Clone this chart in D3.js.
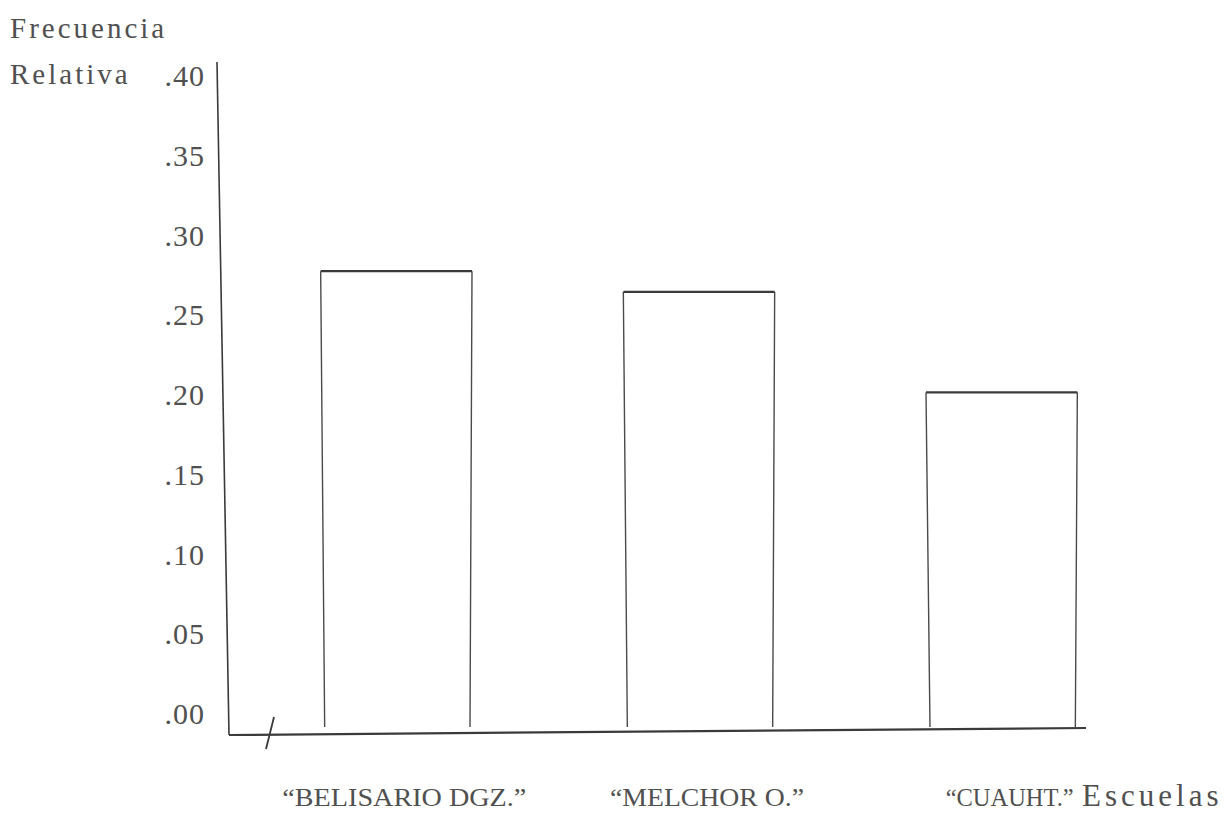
<!DOCTYPE html>
<html><head><meta charset="utf-8">
<script src="https://cdn.jsdelivr.net/npm/d3@7"></script>
<style>
html,body{margin:0;padding:0;background:#fff;}
text{font-family:"Liberation Serif","DejaVu Serif",serif;}
</style></head>
<body><svg id="c" width="1231" height="813"></svg>
<script>
const categories = ["BELISARIO DGZ.", "MELCHOR O.", "CUAUHT."];
const values = [0.277, 0.264, 0.201];
const tickValues = [0, 0.05, 0.10, 0.15, 0.20, 0.25, 0.30, 0.35, 0.40];
const tickLabels = [".00", ".05", ".10", ".15", ".20", ".25", ".30", ".35", ".40"];
const yTitle = ["Frecuencia", "Relativa"];
const xTitle = "Escuelas";

const svg = d3.select("#c");
const ink = "#3a3a3a", txt = "#505050";

const y = d3.scaleLinear().domain([0, 0.40]).range([713, 75]);
const x = d3.scaleBand().domain(categories).range([245, 1153]).paddingInner(0.5).paddingOuter(0.25);
const base = 731;

// y axis labels
const yAxis = d3.axisLeft(y).tickValues(tickValues).tickSize(0).tickPadding(0)
  .tickFormat((d, i) => tickLabels[i]);
const gy = svg.append("g").attr("transform", "translate(205,0)").call(yAxis);
gy.select(".domain").remove();
gy.selectAll("text").attr("font-family", "Liberation Serif, serif").attr("font-size", 30)
  .attr("fill", txt).attr("dy", "0.35em").attr("letter-spacing", 1);

// axis lines
svg.append("line").attr("x1", 217).attr("y1", y(0.40) - 13).attr("x2", 229).attr("y2", base + 4)
  .attr("stroke", ink).attr("stroke-width", 1.6);
svg.append("line").attr("x1", 229).attr("y1", base + 4).attr("x2", 1086).attr("y2", base - 3)
  .attr("stroke", ink).attr("stroke-width", 2.2);
// break mark
svg.append("line").attr("x1", 274).attr("y1", base - 14).attr("x2", 266).attr("y2", base + 18)
  .attr("stroke", ink).attr("stroke-width", 1.8);

// bars (open rectangles): sides
svg.append("g").selectAll("path").data(values).join("path")
  .attr("d", (v, i) => {
    const x0 = x(categories[i]), x1 = x0 + x.bandwidth(), yt = y(v), yb = base - 4;
    return `M${x0},${yt}L${x0 + 4},${yb}M${x1},${yt}L${x1 - 2},${yb}`;
  })
  .attr("fill", "none").attr("stroke", "#4a4a4a").attr("stroke-width", 1.4);
// top lines
svg.append("g").selectAll("line").data(values).join("line")
  .attr("x1", (v, i) => x(categories[i])).attr("x2", (v, i) => x(categories[i]) + x.bandwidth())
  .attr("y1", v => y(v)).attr("y2", v => y(v)).attr("stroke", ink).attr("stroke-width", 2.2);

// category labels
const widths = [244, 194, 128];
svg.append("g").selectAll("text").data(categories).join("text")
  .attr("x", d => x(d) + x.bandwidth() / 2 + 8).attr("y", 806)
  .attr("text-anchor", "middle").attr("font-size", 26).attr("fill", txt)
  .attr("textLength", (d, i) => widths[i]).attr("lengthAdjust", "spacingAndGlyphs")
  .text(d => "\u201C" + d + "\u201D");

svg.append("text").attr("x", 1082).attr("y", 806)
  .attr("font-size", 31).attr("fill", txt).attr("letter-spacing", 4)
  .text(xTitle);

// y title
svg.append("g").selectAll("text").data(yTitle).join("text")
  .attr("x", 10).attr("y", (d, i) => 38 + i * 46).attr("font-size", 29).attr("fill", txt)
  .attr("letter-spacing", 3).text(d => d);
</script></body></html>
